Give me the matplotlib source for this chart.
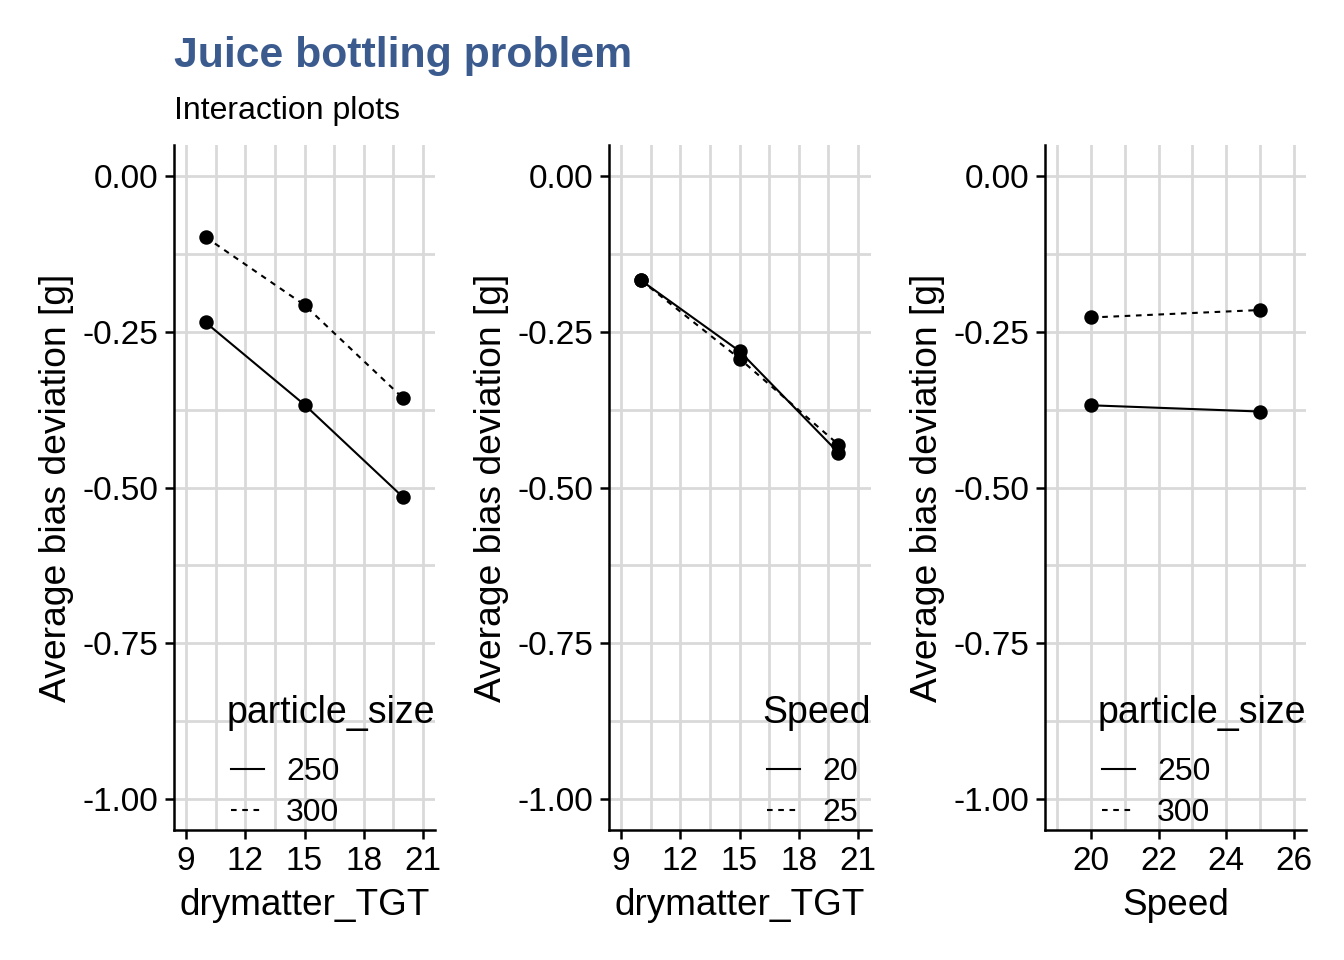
import matplotlib
matplotlib.use("Agg")
import matplotlib.pyplot as plt
from matplotlib.ticker import FixedLocator, FuncFormatter

plt.rcParams['font.family'] = ['Liberation Sans', 'DejaVu Sans']

# ---- data ----
drymatter = [10, 15, 20]
speed = [20, 25]
p1_labels = ["250", "300"]
p1_250 = [-0.235, -0.367, -0.516]
p1_300 = [-0.098, -0.207, -0.357]
p2_labels = ["20", "25"]
p2_s20 = [-0.167, -0.281, -0.444]
p2_s25 = [-0.167, -0.293, -0.431]
p3_labels = ["250", "300"]
p3_250 = [-0.368, -0.378]
p3_300 = [-0.227, -0.215]

yticks = [0.0, -0.25, -0.5, -0.75, -1.0]

W, H = 1344, 960
fig = plt.figure(figsize=(6.72, 4.8), dpi=200)
fig.patch.set_facecolor("white")

ax_top, ax_bot = 145, 830
bottom = 1 - ax_bot / H
height = (ax_bot - ax_top) / H
lefts = [174, 609, 1045]
widths = [261, 262, 261]

panels = [
    dict(x=drymatter, ys=[p1_250, p1_300], labels=p1_labels, title="particle_size",
         xlabel="drymatter_TGT", xlim=(8.4, 21.6), xmaj=[9, 12, 15, 18, 21], xmin=[10.5, 13.5, 16.5, 19.5]),
    dict(x=drymatter, ys=[p2_s20, p2_s25], labels=p2_labels, title="Speed",
         xlabel="drymatter_TGT", xlim=(8.4, 21.65), xmaj=[9, 12, 15, 18, 21], xmin=[10.5, 13.5, 16.5, 19.5]),
    dict(x=speed, ys=[p3_250, p3_300], labels=p3_labels, title="particle_size",
         xlabel="Speed", xlim=(18.64, 26.36), xmaj=[20, 22, 24, 26], xmin=[19, 21, 23, 25]),
]

grid_color = "#D9D9D9"
lw = 0.75
axes = []
titles = []
for i, p in enumerate(panels):
    ax = fig.add_axes([lefts[i] / W, bottom, widths[i] / W, height])
    ax.set_xlim(*p["xlim"])
    ax.set_ylim(-1.05, 0.05)
    ax.xaxis.set_major_locator(FixedLocator(p["xmaj"]))
    ax.xaxis.set_minor_locator(FixedLocator(p["xmin"]))
    ax.yaxis.set_major_locator(FixedLocator(yticks))
    ax.yaxis.set_minor_locator(FixedLocator([-0.125, -0.375, -0.625, -0.875]))
    ax.yaxis.set_major_formatter(FuncFormatter(lambda v, pos: f"{v:.2f}"))
    ax.xaxis.set_major_formatter(FuncFormatter(lambda v, pos: f"{v:g}"))
    ax.grid(True, which="both", color=grid_color, linewidth=1.0, zorder=0)
    ax.set_axisbelow(True)
    for s in ["top", "right"]:
        ax.spines[s].set_visible(False)
    for s in ["left", "bottom"]:
        ax.spines[s].set_linewidth(0.9)
        ax.spines[s].set_color("black")
    ax.tick_params(which="major", direction="out", length=3.2, width=0.9, labelsize=12,
                   color="black", labelcolor="black", pad=2.5)
    ax.tick_params(which="minor", length=0)

    styles = ["-", (0, (2.7, 2.7))]
    lines = []
    for y, ls, lab in zip(p["ys"], styles, p["labels"]):
        ln, = ax.plot(p["x"], y, color="black", linestyle=ls, linewidth=lw, zorder=3, label=lab)
        ax.plot(p["x"], y, linestyle="none", marker="o", markersize=4.2, color="black", zorder=4)
        lines.append(ln)

    ax.set_xlabel(p["xlabel"], fontsize=13.3, labelpad=4)
    ax.set_ylabel("Average bias deviation [g]", fontsize=13.4, labelpad=3)

    # legend title placed separately (right-aligned to panel)
    t = ax.text(1.0, (ax_bot - 713) / (ax_bot - ax_top), p["title"], transform=ax.transAxes,
                ha="right", va="center", fontsize=13.5, color="black")
    titles.append(t)
    axes.append((ax, lines, p))

fig.text(174 / W, 1 - 56 / H, "Juice bottling problem", fontsize=15.4, fontweight="bold",
         color="#3B5B8F", ha="left", va="center")
fig.text(174 / W, 1 - 111 / H, "Interaction plots", fontsize=11.5, color="black",
         ha="left", va="center")

fig.canvas.draw()
renderer = fig.canvas.get_renderer()
for (ax, lines, p), t in zip(axes, titles):
    bb = t.get_window_extent(renderer)
    x0_disp = bb.x0 + 4
    x0_ax = ax.transAxes.inverted().transform((x0_disp, 0))[0]
    y_ax = (ax_bot - 828) / (ax_bot - ax_top)
    leg = ax.legend(handles=lines, labels=p["labels"], loc="lower left",
                    bbox_to_anchor=(x0_ax, y_ax), frameon=False, fontsize=11.5,
                    handlelength=1.05, handletextpad=0.69,
                    labelspacing=0.35, borderpad=0.0, borderaxespad=0.0)
    for h in leg.legend_handles:
        h.set_linewidth(lw)

fig.savefig("out.png", dpi=200)
